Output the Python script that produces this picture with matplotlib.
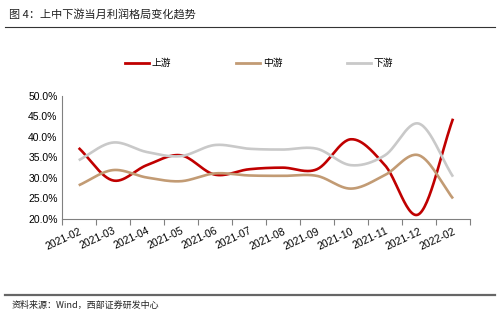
import numpy as np
import matplotlib
matplotlib.use("Agg")
import matplotlib.pyplot as plt
from matplotlib.ticker import FixedLocator, FuncFormatter
from matplotlib.lines import Line2D

plt.rcParams['font.family'] = ['Liberation Sans', 'Noto Sans CJK SC', 'DejaVu Sans']

months = ['2021-02', '2021-03', '2021-04', '2021-05', '2021-06', '2021-07',
          '2021-08', '2021-09', '2021-10', '2021-11', '2021-12', '2022-02']
upstream = [37.3, 29.4, 33.1, 35.5, 30.8, 32.1, 32.5, 32.1, 39.4, 33.1, 21.2, 44.4]
midstream = [28.2, 31.9, 30.1, 29.2, 31.1, 30.6, 30.5, 30.5, 27.4, 30.7, 35.5, 25.0]
downstream = [34.3, 38.6, 36.3, 35.3, 38.0, 37.1, 36.9, 37.1, 33.1, 35.5, 43.2, 30.3]

series_names = ['上游', '中游', '下游']
colors = ['#C00000', '#C29B74', '#C9C9C9']


def smooth(y, steps=30):
    # Catmull-Rom curve through every point, like a spreadsheet "smoothed line"
    y = np.asarray(y, dtype=float)
    x = np.arange(len(y), dtype=float)
    px = np.concatenate([[2 * x[0] - x[1]], x, [2 * x[-1] - x[-2]]])
    py = np.concatenate([[2 * y[0] - y[1]], y, [2 * y[-1] - y[-2]]])
    xs, ys = [], []
    t = np.linspace(0, 1, steps, endpoint=False)
    for i in range(1, len(px) - 2):
        for arr, out in ((px, xs), (py, ys)):
            p0, p1, p2, p3 = arr[i - 1], arr[i], arr[i + 1], arr[i + 2]
            out.extend(0.5 * ((2 * p1) + (-p0 + p2) * t
                              + (2 * p0 - 5 * p1 + 4 * p2 - p3) * t ** 2
                              + (-p0 + 3 * p1 - 3 * p2 + p3) * t ** 3))
    xs.append(x[-1])
    ys.append(y[-1])
    return np.array(xs), np.array(ys)


fig = plt.figure(figsize=(5, 3.25), dpi=100)
ax = fig.add_axes([0.1234, 0.326, 0.8166, 0.3796])

for vals, c in zip([upstream, midstream, downstream], colors):
    sx, sy = smooth(vals)
    ax.plot(sx, sy, color=c, lw=1.9, solid_capstyle='butt')

ax.set_xlim(-0.5, len(months) - 0.5)
ax.set_ylim(20, 50)
ax.set_yticks(np.arange(20, 50.1, 5))
ax.yaxis.set_major_formatter(FuncFormatter(lambda v, p: f'{v:.1f}%'))

# ticks sit between categories, labels under the category centres
ax.xaxis.set_major_locator(FixedLocator(np.arange(-0.5, len(months), 1.0)))
ax.xaxis.set_major_formatter(FuncFormatter(lambda v, p: ''))
ax.xaxis.set_minor_locator(FixedLocator(np.arange(len(months))))
ax.set_xticklabels(months, minor=True, rotation=25, ha='right',
                   rotation_mode='anchor', fontsize=7.5)
ax.tick_params(axis='x', which='major', length=4, color='#808080', width=0.8)
ax.tick_params(axis='x', which='minor', length=0, pad=5)
ax.tick_params(axis='y', length=0, labelsize=7.5, pad=3)

for s in ['top', 'right']:
    ax.spines[s].set_visible(False)
for s in ['left', 'bottom']:
    ax.spines[s].set_color('#808080')
    ax.spines[s].set_linewidth(0.8)

handles = [Line2D([], [], color=c, lw=2) for c in colors]
fig.legend(handles, series_names, loc='center', bbox_to_anchor=(0.518, 0.806),
           ncol=3, frameon=False, handlelength=2.5,
           handletextpad=0.3, columnspacing=6.6,
           prop={'family': ['Noto Sans CJK SC'], 'size': 7})

fig.text(0.018, 0.955, '图 4：上中下游当月利润格局变化趋势', fontsize=8,
         family=['Noto Sans CJK SC'], va='center', color='#222222')
fig.add_artist(Line2D([0.01, 0.99], [0.918, 0.918], color='#333333', lw=0.8))
fig.add_artist(Line2D([0.01, 0.99], [0.092, 0.092], color='#666666', lw=1.6))
fig.text(0.024, 0.06, '资料来源：Wind，西部证券研发中心', fontsize=6.5,
         family=['Noto Sans CJK SC'], va='center', color='#222222')

fig.savefig('out.png', dpi=100, facecolor='white')
